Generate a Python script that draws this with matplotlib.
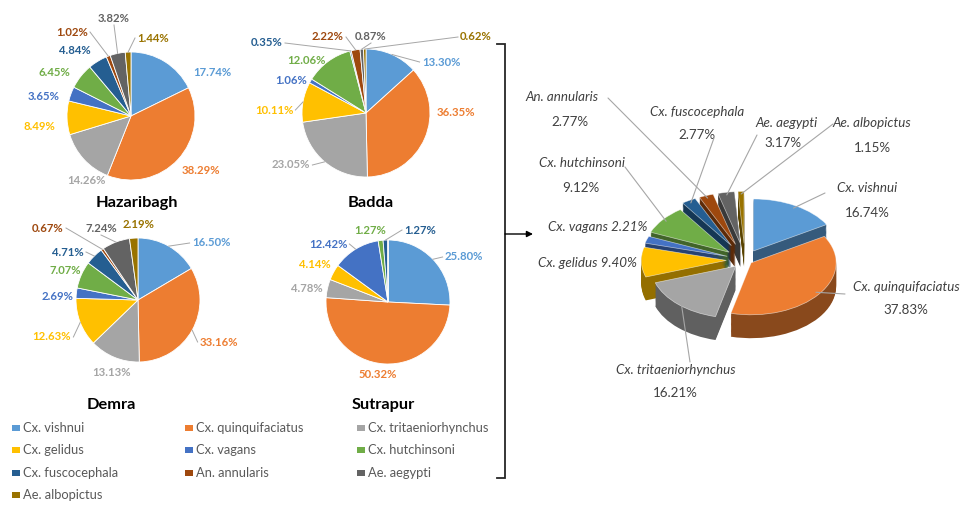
import numpy as np
import matplotlib
matplotlib.use('Agg')
import matplotlib.pyplot as plt
from matplotlib.patches import ConnectionPatch, Rectangle
from matplotlib.colors import to_rgb

plt.rcParams['font.family'] = ['Lato', 'DejaVu Sans']

# ---------------- data ----------------
species = ['Cx. vishnui', 'Cx. quinquifaciatus', 'Cx. tritaeniorhynchus',
           'Cx. gelidus', 'Cx. vagans', 'Cx. hutchinsoni',
           'Cx. fuscocephala', 'An. annularis', 'Ae. aegypti', 'Ae. albopictus']
sites = ['Hazaribagh', 'Badda', 'Demra', 'Sutrapur']
hazaribagh = [17.74, 38.29, 14.26, 8.49, 3.65, 6.45, 4.84, 1.02, 3.82, 1.44]
badda = [13.30, 36.35, 23.05, 10.11, 1.06, 12.06, 0.35, 2.22, 0.87, 0.62]
demra = [16.50, 33.16, 13.13, 12.63, 2.69, 7.07, 4.71, 0.67, 7.24, 2.19]
sutrapur = [25.80, 50.32, 4.78, 4.14, 12.42, 1.27, 1.27, 0, 0, 0]
overall = [16.74, 37.83, 16.21, 9.40, 2.21, 9.12, 2.77, 2.77, 3.17, 1.15]

colors = ['#5B9BD5', '#ED7D31', '#A5A5A5', '#FFC000', '#4472C4',
          '#70AD47', '#255E91', '#9E480E', '#636363', '#997300']

# ---------------- layout (pixels, y from top) ----------------
W, H = 965, 508
def Y(y):
    return H - y

layout = {
    'Hazaribagh': dict(c=(131, 116), r=64, title=(137, 203),
                       lab=[(212, 73), (201, 170), (86, 180), (39, 127), (44, 97),
                            (54, 73), (75, 51), (72, 32), (114, 19), (153, 38)],
                       lead=[0, 0, 0, 0, 0, 0, 0, 1, 1, 1]),
    'Badda': dict(c=(366, 113), r=64, title=(371, 203),
                  lab=[(441, 62), (456, 113), (291, 165), (274, 110), (291, 80),
                       (306, 60), (267, 43), (328, 37), (371, 37), (476, 37)],
                  lead=[1, 0, 1, 1, 0, 0, 1, 1, 1, 1]),
    'Demra': dict(c=(138, 300), r=62, title=(111, 405),
                  lab=[(211, 243), (219, 342), (112, 373), (52, 337), (58, 296),
                       (65, 270), (68, 252), (48, 228), (101, 229), (139, 225)],
                  lead=[1, 1, 0, 1, 0, 0, 1, 1, 1, 0]),
    'Sutrapur': dict(c=(388, 302), r=62, title=(383, 405),
                     lab=[(464, 257), (378, 375), (307, 288), (315, 265), (328, 244),
                          (370, 230), (420, 230), None, None, None],
                     lead=[1, 0, 0, 0, 1, 0, 1, 0, 0, 0]),
}
site_values = {'Hazaribagh': hazaribagh, 'Badda': badda,
               'Demra': demra, 'Sutrapur': sutrapur}

fig = plt.figure(figsize=(W / 100, H / 100), dpi=100)
ax = fig.add_axes([0, 0, 1, 1])
ax.set_zorder(3)

lead_col = '#A6A6A6'
for site in sites:
    L = layout[site]
    vals = site_values[site]
    cx, cy = L['c']
    wedges, _ = ax.pie(vals, colors=colors, startangle=90, counterclock=False,
                       center=(cx, Y(cy)), radius=L['r'], frame=True,
                       wedgeprops=dict(edgecolor='white', linewidth=0.6))
    for i, (w, v) in enumerate(zip(wedges, vals)):
        if v <= 0 or L['lab'][i] is None:
            continue
        lx, ly = L['lab'][i]
        txt = f'{v:.2f}%'
        ax.text(lx, Y(ly), txt, ha='center', va='center', fontsize=8.2,
                fontweight='bold', color=colors[i])
        if L['lead'][i]:
            mid = np.deg2rad((w.theta1 + w.theta2) / 2)
            rx = cx + L['r'] * np.cos(mid)
            ry = Y(cy) + L['r'] * np.sin(mid)
            hw = len(txt) * 3.4
            dx = rx - lx
            dy = ry - Y(ly)
            if abs(dx) > hw + 2:
                sx, sy = lx + np.sign(dx) * (hw + 1), Y(ly)
            else:
                sx, sy = lx, Y(ly) + np.sign(dy) * 6
            ax.plot([sx, rx], [sy, ry], color=lead_col, lw=0.7)
    tx, ty = L['title']
    ax.text(tx, Y(ty), site, ha='center', va='center', fontsize=11.8,
            fontweight='bold', color='black')

# legend
col_x = [12, 185, 357]
row_y = [428, 450, 473, 495]
for i, sp in enumerate(species):
    cxl = col_x[i % 3]
    ryl = row_y[i // 3]
    ax.add_patch(Rectangle((cxl, Y(ryl) - 3), 8, 6, color=colors[i], lw=0))
    ax.text(cxl + 11, Y(ryl), sp, ha='left', va='center', fontsize=9.3,
            color='#595959')

# bracket and arrow
ax.plot([497, 505, 505, 497], [Y(44), Y(44), Y(478), Y(478)],
        color='#262626', lw=1.3, solid_joinstyle='miter')
ax.annotate('', xy=(533, Y(234)), xytext=(505, Y(234)),
            arrowprops=dict(arrowstyle='-|>', color='black', lw=1.0,
                            mutation_scale=9, shrinkA=0, shrinkB=0))

ax.set_aspect('auto')
ax.set_xlim(0, W)
ax.set_ylim(0, H)
ax.axis('off')

# ---------------- 3-D exploded overall pie ----------------
pcx, pcy, prx, pry = 745, 260, 85, 52
ax3 = fig.add_axes([(pcx - 2 * prx) / W, (H - (pcy + 3 * pry)) / H,
                    4 * prx / W, 6 * pry / H])
explode3 = [0.2, 0.09, 0.16, 0.22, 0.22, 0.24, 0.32, 0.32, 0.32, 0.32]
depth = 0.45
nl = 20
dark = [tuple(np.array(to_rgb(c)) * 0.58) for c in colors]
for k in range(nl, 0, -1):
    ax3.pie(overall, explode=explode3, colors=dark, startangle=90,
            counterclock=False, center=(0, -depth * k / nl), frame=True,
            wedgeprops=dict(linewidth=0))
wedges3, _ = ax3.pie(overall, explode=explode3, colors=colors, startangle=90,
                     counterclock=False, center=(0, 0), frame=True,
                     wedgeprops=dict(linewidth=0.5, edgecolor=(1, 1, 1, 0.6)))
ax3.set_aspect('auto')
ax3.set_xlim(-2, 2)
ax3.set_ylim(-3, 3)
ax3.axis('off')

# labels for 3-D pie: (name pos, pct pos or None for single line, leader start)
lab3 = [
    ((867, 188), (867, 213), (825, 193)),
    ((906, 287), (906, 310), (845, 294)),
    ((676, 370), (675, 393), (690, 362)),
    ((587, 263), None, None),
    ((598, 227), None, None),
    ((582, 163), (581, 188), (625, 167)),
    ((697, 112), (697, 135), (714, 138)),
    ((562, 97), (570, 122), (608, 98)),
    ((787, 123), (783, 143), (757, 135)),
    ((872, 123), (872, 148), (833, 124)),
]
tcol = '#404040'
fs3 = 9.6
for i, (w, v) in enumerate(zip(wedges3, overall)):
    npos, ppos, lpos = lab3[i]
    if ppos is None:
        ax.text(npos[0], Y(npos[1]), f'{species[i]} {v:.2f}%', ha='center',
                va='center', fontsize=fs3, style='italic', color=tcol)
    else:
        ax.text(npos[0], Y(npos[1]), species[i], ha='center', va='center',
                fontsize=fs3, style='italic', color=tcol)
        ax.text(ppos[0], Y(ppos[1]), f'{v:.2f}%', ha='center', va='center',
                fontsize=fs3, color=tcol)
    if lpos is not None:
        mid = np.deg2rad((w.theta1 + w.theta2) / 2)
        px = w.center[0] + w.r * 0.95 * np.cos(mid)
        py = w.center[1] + w.r * 0.95 * np.sin(mid)
        con = ConnectionPatch(xyA=(lpos[0], Y(lpos[1])), coordsA=ax.transData,
                              xyB=(px, py), coordsB=ax3.transData,
                              color=lead_col, lw=0.8)
        con.set_zorder(5)
        fig.add_artist(con)

fig.savefig('out.png', dpi=100, facecolor='white')
